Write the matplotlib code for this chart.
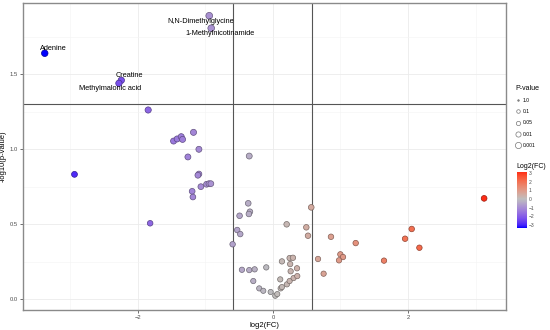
import numpy as np
import matplotlib
matplotlib.use('Agg')
import matplotlib.pyplot as plt
from matplotlib.colors import LinearSegmentedColormap, Normalize
from matplotlib.cm import ScalarMappable
from matplotlib.lines import Line2D

plt.rcParams['font.family'] = ['Liberation Sans', 'DejaVu Sans']

# labelled metabolites
label_names = ['Adenine', 'Creatine', 'Methylmalonic acid',
               'N,N-Dimethylglycine', '1-Methylnicotinamide']
label_fc = [-3.378, -2.245, -2.28, -0.943, -0.914]
label_p = [1.64, 1.46, 1.44, 1.89, 1.807]
# where ggrepel put the text
text_x = [-3.249, -2.123, -2.407, -1.067, -0.79]
text_y = [1.673, 1.493, 1.404, 1.851, 1.771]

# the rest
other_fc = [-2.938, -1.847, -1.176, -1.471, -1.418, -1.358, -1.338, -1.096,
            -1.259, -0.351, -1.096, -1.111, -1.067, -0.983, -0.948, -0.919,
            -1.196, -1.185, -1.818, -0.366, -0.494, -0.341, -0.356, -0.529,
            -0.484, -0.597, 0.203, 0.567, 0.494, 0.519, 0.859, 0.667, 0.75,
            -0.459, -0.351, -0.271, -0.099, -0.291, -0.203, -0.143, -0.034,
            0.034, 0.064, 0.114, 0.133, 0.207, 0.247, 0.306, 0.36, 0.108,
            0.262, 0.356, 0.133, 0.247, 0.296, 0.255, 1.225, 1.956, 2.054,
            2.168, 3.126, 0.998, 1.037, 0.978, 1.644]
other_p = [0.833, 1.262, 1.113, 1.055, 1.069, 1.084, 1.066, 1.0,
           0.949, 0.955, 0.835, 0.827, 0.751, 0.767, 0.771, 0.771,
           0.72, 0.682, 0.507, 0.64, 0.557, 0.584, 0.569, 0.462,
           0.435, 0.367, 0.5, 0.613, 0.48, 0.424, 0.417, 0.269, 0.171,
           0.197, 0.195, 0.2, 0.213, 0.122, 0.073, 0.057, 0.049,
           0.024, 0.035, 0.073, 0.082, 0.1, 0.122, 0.142, 0.155, 0.133,
           0.187, 0.207, 0.253, 0.275, 0.277, 0.235, 0.375, 0.404, 0.469,
           0.344, 0.673, 0.3, 0.282, 0.26, 0.258]

pval_levels = ['1.0', '0.1', '0.05', '0.01', '0.001']
pval_sizes = [1.6, 3.6, 4.3, 5.2, 6.2]   # marker diameter in px
cbar_ticks = [-3, -2, -1, 0, 1, 2, 3]

fc = np.array(label_fc + other_fc)
lp = np.array(label_p + other_p)


# gradient2-like colour map (blue - grey - red), blended in Lab like ggplot
M = np.array([[0.4124, 0.3576, 0.1805], [0.2126, 0.7152, 0.0722], [0.0193, 0.1192, 0.9505]])
WHITE = np.array([0.95047, 1.0, 1.08883])


def to_lab(c):
    c = np.asarray(c, float)
    lin = np.where(c <= 0.04045, c / 12.92, ((c + 0.055) / 1.055) ** 2.4)
    xyz = M @ lin / WHITE
    f = np.where(xyz > 0.008856, np.cbrt(xyz), 7.787 * xyz + 16 / 116)
    return np.array([116 * f[1] - 16, 500 * (f[0] - f[1]), 200 * (f[1] - f[2])])


def from_lab(lab):
    fy = (lab[0] + 16) / 116
    f = np.array([fy + lab[1] / 500, fy, fy - lab[2] / 200])
    xyz = np.where(f ** 3 > 0.008856, f ** 3, (f - 16 / 116) / 7.787) * WHITE
    lin = np.clip(np.linalg.inv(M) @ xyz, 0, None)
    c = np.where(lin <= 0.0031308, 12.92 * lin, 1.055 * lin ** (1 / 2.4) - 0.055)
    return np.clip(c, 0, 1)


low, mid, high = to_lab([0, 0, 1]), to_lab([0.745, 0.745, 0.745]), to_lab([1, 0, 0])
stops = []
for t in np.linspace(-1, 1, 61):
    end = low if t < 0 else high
    stops.append(from_lab(mid + abs(t) * (end - mid)))
cmap = LinearSegmentedColormap.from_list('grad2', stops)
lim = np.abs(fc).max()
norm = Normalize(-lim, lim)

fig = plt.figure(figsize=(5.5, 3.3), dpi=100)
ax = fig.add_axes([23 / 550, 20 / 330, 483 / 550, 307 / 330])

fill = cmap(norm(fc))
edge = fill.copy()
edge[:, :3] *= 0.6
diam = 5.2 + 0.8 * lp
ax.scatter(fc, lp, s=(diam * 0.72) ** 2, c=fill, edgecolors=edge,
           linewidths=0.5, zorder=3)

for name, tx, ty in zip(label_names, text_x, text_y):
    ax.text(tx, ty, name, fontsize=5.3, ha='center', va='center', zorder=4)

thr_fc = np.log2(1.5)
ax.axvline(-thr_fc, color='#555555', lw=0.8, zorder=2)
ax.axvline(thr_fc, color='#555555', lw=0.8, zorder=2)
ax.axhline(-np.log10(0.05), color='#555555', lw=0.8, zorder=2)

ax.set_xlim(-3.70, 3.45)
ax.set_ylim(-0.071, 1.975)
ax.set_xticks([-2, 0, 2])
ax.set_yticks([0.0, 0.5, 1.0, 1.5])
ax.set_yticklabels(['0.0', '0.5', '1.0', '1.5'])
ax.set_xticks([-3, -1, 1, 3], minor=True)
ax.set_yticks([0.25, 0.75, 1.25, 1.75], minor=True)
ax.grid(which='major', color='#ebebeb', lw=0.6, zorder=0)
ax.grid(which='minor', color='#f4f4f4', lw=0.4, zorder=0)
ax.tick_params(which='major', labelsize=4.2, labelcolor='#4d4d4d', length=2,
               width=0.5, color='#333333', pad=1.5)
ax.tick_params(which='minor', length=0)
for sp in ax.spines.values():
    sp.set_color('#8a8a8a')
    sp.set_linewidth(1.0)
ax.set_xlabel('log2(FC)', fontsize=5.5)
ax.set_ylabel('-log10(p-value)', fontsize=5.5)
ax.xaxis.set_label_coords(0.5, -0.04)
ax.yaxis.set_label_coords(-0.033, 0.5)

# P-value size legend
handles = [Line2D([], [], ls='', marker='o', markersize=d * 0.72,
                  markerfacecolor='none' if i else '#888888',
                  markeredgecolor='#777777', markeredgewidth=0.5)
           for i, d in enumerate(pval_sizes)]
leg = fig.legend(handles, pval_levels, title='P-value', loc='upper left',
                 bbox_to_anchor=(512 / 550, 1 - 81 / 330), frameon=False,
                 fontsize=3.6, title_fontsize=5, labelspacing=1.25,
                 handlelength=1.0, handletextpad=0.5, borderpad=0.2)
leg._legend_box.align = 'left'

# Log2(FC) colour bar
fig.text(516 / 550, 1 - 166 / 330, 'Log2(FC)', fontsize=5, va='center', ha='left')
cax = fig.add_axes([516.5 / 550, (330 - 228) / 330, 10.5 / 550, 56 / 330])
sm = ScalarMappable(norm=Normalize(fc.min(), fc.max()), cmap=LinearSegmentedColormap.from_list(
    'bar', cmap(norm(np.linspace(fc.min(), fc.max(), 100)))))
cb = fig.colorbar(sm, cax=cax, ticks=cbar_ticks)
cb.outline.set_visible(False)
cb.ax.tick_params(labelsize=3.6, length=0, pad=1.5, labelcolor='#4d4d4d')

fig.savefig('out.png', dpi=100)
